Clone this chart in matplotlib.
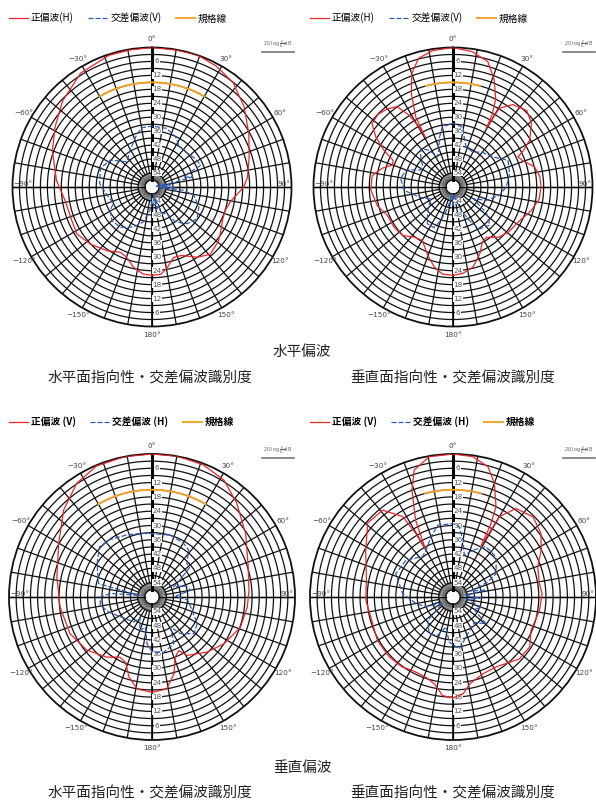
import numpy as np
import matplotlib
matplotlib.use('Agg')
import matplotlib.pyplot as plt
from matplotlib.lines import Line2D

plt.rcParams['font.family'] = ['Noto Sans CJK JP', 'DejaVu Sans']

# ---- data (angle in degrees, attenuation in dB) ----
# top-left: horizontal polarisation, horizontal plane
hh_ang = [-180, -174, -167, -160, -154, -145, -133, -122, -113, -99, -86, -70, -58, -46, -32,
          -18, -9, 0, 10, 19, 28, 38, 49, 61, 73, 84, 90, 100, 108, 115, 122, 129, 139, 147,
          157, 163, 169, 174, 180]
hh_co = [22, 22.4, 24.6, 27.9, 28.8, 26.5, 23.9, 21.9, 22.6, 22.2, 18.8, 14.4, 10.9, 6.6, 2.2,
         0.4, 0.3, 0, 0.2, 0, 1.1, 3.2, 7.5, 12.4, 16.3, 18.7, 20.5, 25.5, 27, 26.5, 25, 23.2,
         21.7, 24, 28, 28.3, 24.9, 22.3, 22]
hh_x_ang = [-180, -175, -170, -166, -155, -142, -130, -119, -113, -100, -86, -70, -57, -45, -31,
            -18, -10, 0, 14, 25, 33, 44, 57, 66, 70, 73, 76, 78, 80, 83, 88, 92, 95, 96, 101,
            113, 125, 136, 146, 151, 160, 165, 167, 170, 175, 180]
hh_x = [54, 50, 47.6, 44.5, 41, 38, 37.5, 39.4, 42, 40.3, 37.4, 36.4, 38.7, 44.7, 41.6,
        37.3, 34.1, 33.8, 34, 36.1, 38.7, 39.1, 37.7, 37.1, 44, 45.6, 42, 50, 58, 52, 56, 50,
        57, 46.3, 41.7, 38.1, 36.3, 38.1, 41.9, 46.8, 48, 55, 50.4, 57, 52, 54]

# top-right: horizontal polarisation, vertical plane
hv_ang = [-180, -173, -167, -160, -150, -142, -134, -124, -113, -104, -92, -82, -75, -70, -66,
          -62, -57, -52, -46, -40, -35, -31.5, -29.5, -29, -28, -24, -20, -15, -8.5, 0, 8,
          15.5, 21, 26, 28.5, 29.5, 30.5, 36, 44, 51, 58.5, 63, 65, 69.5, 76, 83, 90, 98, 107,
          117, 129.5, 138, 146.5, 152, 158, 166, 173.5, 180]
hv_co = [22, 22.3, 24.6, 28.5, 33.5, 32.7, 29.9, 29.3, 29.2, 26.5, 24.6, 24.9, 28.6, 32.4, 31.8,
         26.3, 20.4, 15.8, 15.1, 16.1, 17.8, 23.6, 30.2, 35.5, 25.8, 16, 8.1, 2.7, 0.7, 0, 1.2,
         4.0, 10.6, 18.1, 25, 31, 20.6, 16.2, 14.3, 16.6, 21.3, 26.3, 29.2, 27.9, 23.9, 22.4,
         22.1, 22.6, 24.9, 27.9, 29.3, 30.9, 34, 33.1, 29.1, 24.5, 22.6, 22]
hv_x_ang = [-180, -176, -172, -165, -160, -155, -145, -133, -118, -110, -103, -94, -81, -70, -62,
            -55, -47, -40, -33, -27, -21, -15, -10, 0, 9, 18, 29, 40, 53, 64, 77, 90, 100, 112,
            120, 128, 136, 148, 154, 161, 170, 176, 180]
hv_x = [52, 57, 56, 50, 44.7, 40.7, 40.7, 45.2, 49.2, 46, 43.6, 39, 37.2, 38.4, 44.4,
        44, 41, 38.4, 41.2, 45.5, 43, 37.7, 33.7, 32.6, 34, 41.9, 42.7, 40.5, 38.5, 33.7, 35,
        37.1, 39.7, 44.6, 50, 41.7, 37.2, 38.7, 44, 49.4, 55, 57, 52]

# bottom-left: vertical polarisation, horizontal plane
vh_ang = [-180, -171, -164, -158, -152, -143, -129, -114, -96, -78, -60, -45.5, -33.5, -23, -11,
          0, 10, 21, 31.6, 42, 56, 71, 86, 96, 109, 123, 135, 149, 153.5, 159, 164, 171, 180]
vh_co = [20, 20.9, 25, 30.4, 31.4, 28.4, 24.7, 22.3, 21.2, 19.2, 14.8, 8, 2.8, 0.3, 0,
         0, 0, 0.5, 2.4, 6.9, 12.6, 17.4, 19.2, 19.8, 20.8, 24, 27.3, 31.4, 34.9, 32.9, 26.5,
         20.9, 20]
vh_x_ang = [-180, -174, -167.5, -160, -150, -144, -125, -110, -99, -90, -85, -83, -76, -64, -56,
            -46, -36, -22, -10, 0, 16.6, 30.7, 38, 46, 52, 58, 65, 72, 80, 88, 95, 108, 120.6,
            131, 142, 148.6, 155, 168, 178, 180]
vh_x = [37, 40.2, 47, 45, 50, 47, 45, 41, 38, 38.3, 42.5, 55, 36.9, 34.5, 32.4,
        29.5, 30.2, 31.9, 32.9, 33.4, 32.9, 33.9, 35, 39.7, 40, 46, 50, 45, 43.6, 50, 45, 42.3,
        38, 36.6, 40.5, 45.2, 38.3, 36.3, 36.9, 37]

# bottom-right: vertical polarisation, vertical plane
vv_ang = [-180, -174, -168, -161, -151, -144, -133, -120, -104, -92, -77, -62, -49, -39, -32,
          -30.3, -30, -26, -21, -17, -9.6, 0, 8, 15, 20, 25.5, 27.5, 28.8, 30, 35.5, 45, 54, 62,
          70.5, 81, 88, 99, 113, 123, 133, 148, 159, 169, 174, 180]
vv_co = [17.7, 18.4, 22.7, 24.5, 24.8, 23.7, 23.3, 23.4, 24.5, 23.4, 22.7, 18.5, 12.6, 13.1, 20.2,
         29.2, 37, 24.2, 11.9, 4.3, 0.3, 0, 0.5, 3.4, 9.2, 18.1, 26, 36, 21, 14.4, 12.5, 14.4,
         18.1, 22.3, 23.3, 22.6, 23.3, 24.4, 21.6, 21.9, 25.5, 25.4, 22.9, 19.2, 17.7]
vv_x_ang = [-180, -175, -167, -158, -147, -133, -120, -110, -100, -86, -68, -52, -37, -30, -20,
            -12, 0, 5, 10, 15, 23, 33, 47, 61.5, 66.5, 72, 78, 85, 92, 100, 110, 120, 129, 140,
            150, 162, 173, 180]
vv_x = [40, 41.1, 47.1, 42.6, 41.6, 45.6, 55, 48, 44.2, 38.8, 34.1, 34.9, 38.8, 37.3, 33.1,
        29.2, 29.2, 30.4, 35.8, 41.8, 38.7, 34.8, 35.3, 39.4, 44.1, 52, 46, 55, 48, 54, 47, 50,
        42.2, 46, 45, 42.3, 38.1, 40]

# spec line (規格線): level and angular span
spec_db = 15
spec_span_h = 30
spec_span_v = 15

db_ticks = [6, 12, 18, 24, 30, 36, 42, 48, 54]
deg_ticks = [0, 30, 60, 90, 120, 150, 180, -150, -120, -90, -60, -30]

RED = '#e8262c'
BLUE = '#2c5cb4'
ORANGE = '#f2a52c'
W, H = 596, 801


def make_polar(fig, cx, cy, R):
    ax = fig.add_axes([(cx - R) / W, (H - cy - R) / H, 2 * R / W, 2 * R / H], projection='polar')
    ax.set_theta_zero_location('N')
    ax.set_theta_direction(-1)
    ax.set_ylim(0, 60)
    ax.grid(False)
    ax.set_xticks([])
    ax.set_yticks([])
    ax.spines['polar'].set_linewidth(1.3)
    ax.spines['polar'].set_color('#111111')
    th = np.linspace(0, 2 * np.pi, 361)
    for r in range(3, 60, 3):
        ax.plot(th, np.full_like(th, r), color='#111111', lw=0.9, zorder=1)
    for d in range(0, 360, 10):
        t = np.radians(d)
        ax.plot([t, t], [6, 60], color='#111111', lw=0.9, zorder=1)
    for d in range(0, 360, 5):
        t = np.radians(d)
        ax.plot([t, t], [3, 6], color='#111111', lw=0.4, zorder=1)
    ax.plot([0, 0], [3, 60], color='black', lw=2.2, zorder=1)
    ax.plot([np.pi, np.pi], [3, 60], color='black', lw=1.2, zorder=1)
    ax.plot([np.pi / 2, np.pi / 2], [3, 60], color='black', lw=1.0, zorder=1)
    ax.plot([-np.pi / 2, -np.pi / 2], [3, 60], color='black', lw=1.0, zorder=1)
    # dB labels along the vertical axis
    for db in db_ticks:
        for t in (0, np.pi):
            ax.annotate(str(db), xy=(t, 60 - db), xytext=(3.6, 0), textcoords='offset points',
                        ha='center', va='center', fontsize=5.2, color='#555555', zorder=2,
                        family=['DejaVu Sans'],
                        bbox=dict(facecolor='white', edgecolor='none', pad=0.2))
    # angle labels
    for d in deg_ticks:
        lab = ('−' if d < 0 else '') + str(abs(d)) + '°'
        t = np.radians(d)
        if abs(d) == 90:
            ax.text(t, 59.5, lab, ha='right' if d > 0 else 'left', va='bottom', fontsize=5.2,
                    color='#444444', family=['DejaVu Sans'])
        else:
            ax.text(t, 63.5, lab, ha='center', va='center', fontsize=5.2, color='#444444',
                    family=['DejaVu Sans'], clip_on=False)
    return ax


def draw(ax, ang, co, x_ang, xp, span):
    l1, = ax.plot(np.radians(ang), 60 - np.array(co), color=RED, lw=0.9, zorder=3)
    l2, = ax.plot(np.radians(x_ang), 60 - np.array(xp), color=BLUE, lw=0.9, ls=(0, (4, 1.6)),
                  zorder=3)
    arc = np.radians(np.linspace(-span, span, 61))
    l3, = ax.plot(arc, np.full_like(arc, 60 - spec_db), color=ORANGE, lw=1.4, zorder=3)
    return [l1, l2, l3]


fig = plt.figure(figsize=(W / 100, H / 100), dpi=100)

charts = [
    (152, 187, 139.5, hh_ang, hh_co, hh_x_ang, hh_x, spec_span_h),
    (453, 187, 139.5, hv_ang, hv_co, hv_x_ang, hv_x, spec_span_v),
    (152, 597, 143, vh_ang, vh_co, vh_x_ang, vh_x, spec_span_h),
    (453, 597, 143, vv_ang, vv_co, vv_x_ang, vv_x, spec_span_v),
]
leg_top = ['正偏波(H)', '交差偏波(V)', '規格線']
leg_bot = ['正偏波 (V)', '交差偏波 (H)', '規格線']

for i, (cx, cy, R, a, c, xa, xv, sp) in enumerate(charts):
    ax = make_polar(fig, cx, cy, R)
    handles = draw(ax, a, c, xa, xv, sp)
    top = i < 2
    labels = leg_top if top else leg_bot
    ly = 18 if top else 422
    lx = (cx - 143) / W
    ax.legend(handles, labels, loc='center left', bbox_to_anchor=(lx, 1 - ly / H),
              bbox_transform=fig.transFigure, ncol=3, frameon=False,
              handlelength=2.0, handletextpad=0.25, columnspacing=1.5, borderpad=0,
              borderaxespad=0, prop=dict(size=7, weight='normal' if top else 'bold'))
    # 20 log E/E0 dB scale note
    sy = 45 if top else 451
    fig.text((cx + 126) / W, 1 - sy / H, r'$20\ \log\frac{E}{E_0}$dB', ha='center', va='center',
             fontsize=3.6, color='#666666', family=['DejaVu Sans'])
    fig.add_artist(Line2D([(cx + 110) / W, (cx + 142) / W], [1 - (sy + 7) / H] * 2,
                          color='#777777', lw=1.2))

fig.text(302 / W, 1 - 352 / H, '水平偏波', ha='center', va='center', fontsize=10.5, color='#222222')
fig.text(150 / W, 1 - 378 / H, '水平面指向性・交差偏波識別度', ha='center', va='center', fontsize=10.5,
         color='#222222')
fig.text(453 / W, 1 - 378 / H, '垂直面指向性・交差偏波識別度', ha='center', va='center', fontsize=10.5,
         color='#222222')
fig.text(302 / W, 1 - 768 / H, '垂直偏波', ha='center', va='center', fontsize=10.5, color='#222222')
fig.text(150 / W, 1 - 793 / H, '水平面指向性・交差偏波識別度', ha='center', va='center', fontsize=10.5,
         color='#222222')
fig.text(453 / W, 1 - 793 / H, '垂直面指向性・交差偏波識別度', ha='center', va='center', fontsize=10.5,
         color='#222222')

fig.savefig('out.png', dpi=100)
